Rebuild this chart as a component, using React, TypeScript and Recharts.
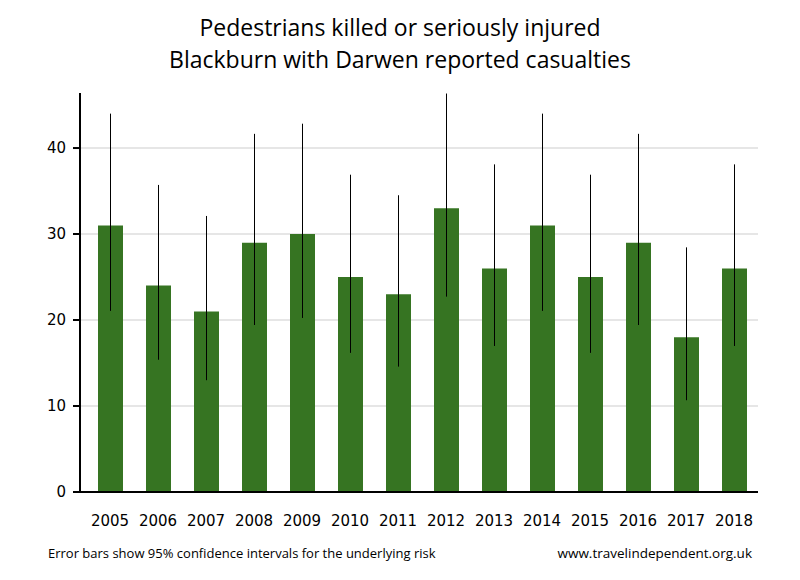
import React from "react";
import { BarChart, Bar, XAxis, YAxis, CartesianGrid, ErrorBar } from "recharts";

const years = ["2005","2006","2007","2008","2009","2010","2011","2012","2013","2014","2015","2016","2017","2018"];
const casualties = [31, 24, 21, 29, 30, 25, 23, 33, 26, 31, 25, 29, 18, 26];
const lowerCI = [21.06, 15.38, 13.0, 19.42, 20.24, 16.18, 14.58, 22.72, 16.98, 21.06, 16.18, 19.42, 10.67, 16.98];
const upperCI = [44.0, 35.71, 32.1, 41.65, 42.83, 36.9, 34.51, 46.34, 38.1, 44.0, 36.9, 41.65, 28.45, 38.1];
const yTicks = [0, 10, 20, 30, 40];

const data = years.map((y, i) => ({
  year: y,
  value: casualties[i],
  err: [casualties[i] - lowerCI[i], upperCI[i] - casualties[i]],
}));

const font = "'DejaVu Sans', sans-serif";
const titleFont = "'Open Sans', sans-serif";

export default function App() {
  return (
    <div style={{ position: "absolute", left: 0, top: 0, width: 800, height: 580, background: "#fff" }}>
      <BarChart
        width={800}
        height={580}
        data={data}
        margin={{ top: 93, right: 42, bottom: 48, left: 40 }}
      >
        <CartesianGrid vertical={false} horizontalValues={[10, 20, 30, 40]} stroke="#e6e6e6" strokeWidth={2} />
        <XAxis
          dataKey="year"
          height={40}
          padding={{ left: 6, right: 0 }}
          tickLine={false}
          tickMargin={17}
          axisLine={{ stroke: "#000", strokeWidth: 2 }}
          tick={{ fill: "#000", fontSize: 15, fontFamily: font }}
        />
        <YAxis
          width={40}
          domain={[0, 46.4]}
          ticks={yTicks}
          tickSize={7}
          tickMargin={7}
          axisLine={{ stroke: "#000", strokeWidth: 2 }}
          tickLine={{ stroke: "#000", strokeWidth: 2 }}
          tick={{ fill: "#000", fontSize: 15, fontFamily: font }}
        />
        <Bar dataKey="value" fill="#367422" barSize={25} isAnimationActive={false}>
          <ErrorBar dataKey="err" width={0} stroke="#000" strokeWidth={1} />
        </Bar>
      </BarChart>
      <div style={{ position: "absolute", left: 0, top: 11, width: 800, textAlign: "center", fontFamily: titleFont, fontSize: 23, lineHeight: "32px", color: "#000" }}>
        <div>Pedestrians killed or seriously injured</div>
        <div>Blackburn with Darwen reported casualties</div>
      </div>
      <div style={{ position: "absolute", left: 48, top: 544, fontFamily: titleFont, fontSize: 13, color: "#000" }}>
        Error bars show 95% confidence intervals for the underlying risk
      </div>
      <div style={{ position: "absolute", right: 48, top: 544, fontFamily: titleFont, fontSize: 13.5, color: "#000" }}>
        www.travelindependent.org.uk
      </div>
    </div>
  );
}
